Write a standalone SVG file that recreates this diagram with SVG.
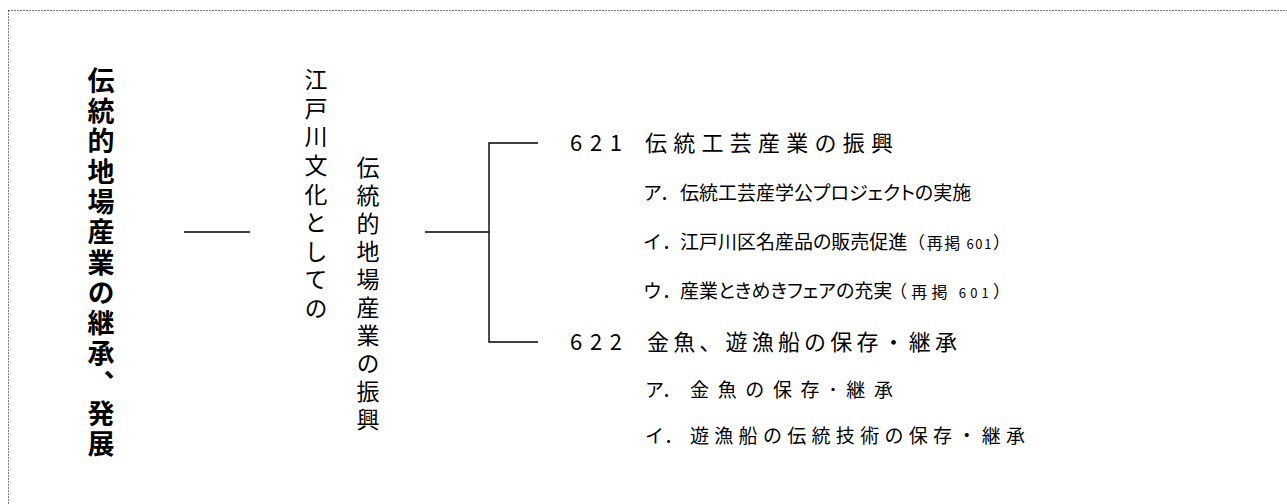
<svg xmlns="http://www.w3.org/2000/svg" width="1287" height="504" viewBox="0 0 1287 504">
<style>
.t{font-family:"Noto Sans CJK JP","Noto Sans",sans-serif;fill:#000}
.h{font-size:22px}
.s{font-size:19px}
.p{font-feature-settings:"palt"}
.r{font-size:17px}
.k{font-size:16px}
.n{font-size:13px}
.v{writing-mode:vertical-rl}
.ln{stroke:#000;stroke-width:1.4;fill:none}
</style>
<rect x="8.5" y="10.5" width="1300" height="520" fill="none" stroke="#000" stroke-width="1" stroke-dasharray="1 2"/>
<g id="title">
<text class="t v" x="101" y="67" style="font-size:27px;font-weight:bold;letter-spacing:3.3px">伝統的地場産業の継承、発展</text>
</g>
<g id="mid">
<text class="t v" x="316" y="68" style="font-size:23px;letter-spacing:5.6px">江戸川文化としての</text>
<text class="t v" x="368" y="156" style="font-size:23px;letter-spacing:5px">伝統的地場産業の振興</text>
</g>
<g id="connectors">
<line class="ln" x1="184" y1="232" x2="250" y2="232"/>
<line class="ln" x1="425" y1="232" x2="489" y2="232"/>
<polyline class="ln" points="538,143 489,143 489,342 538,342"/>
</g>
<g id="n621">
<text class="t h" x="570" y="151" textLength="52">621</text>
<text class="t h" x="645" y="151" textLength="248">伝統工芸産業の振興</text>
</g>
<g id="n621a">
<text class="t s" x="643" y="200">ア．</text>
<text class="t s p" x="680" y="200">伝統工芸産学公プロジェクトの実施</text>
</g>
<g id="n621b">
<text class="t s" x="643" y="249">イ．</text>
<text class="t s p" x="680" y="249">江戸川区名産品の販売促進</text>
<text x="908" y="249" textLength="102"><tspan class="t r">（</tspan><tspan class="t k">再掲</tspan><tspan class="t n"> 601</tspan><tspan class="t r">）</tspan></text>
</g>
<g id="n621c">
<text class="t s" x="643" y="298">ウ．</text>
<text class="t s p" x="680" y="298">産業ときめきフェアの充実</text>
<text x="890" y="298" textLength="120"><tspan class="t r">（</tspan><tspan class="t k">再掲</tspan><tspan class="t n"> 601</tspan><tspan class="t r">）</tspan></text>
</g>
<g id="n622">
<text class="t h" x="570" y="350" textLength="52">622</text>
<text class="t h" x="647" y="350" textLength="310">金魚、遊漁船の保存・継承</text>
</g>
<g id="n622a">
<text class="t s" x="645" y="397">ア．</text>
<text class="t s" x="690" y="397" textLength="203">金魚の保存･継承</text>
</g>
<g id="n622b">
<text class="t s" x="645" y="443">イ．</text>
<text class="t s" x="690" y="443" textLength="335">遊漁船の伝統技術の保存・継承</text>
</g>
</svg>
